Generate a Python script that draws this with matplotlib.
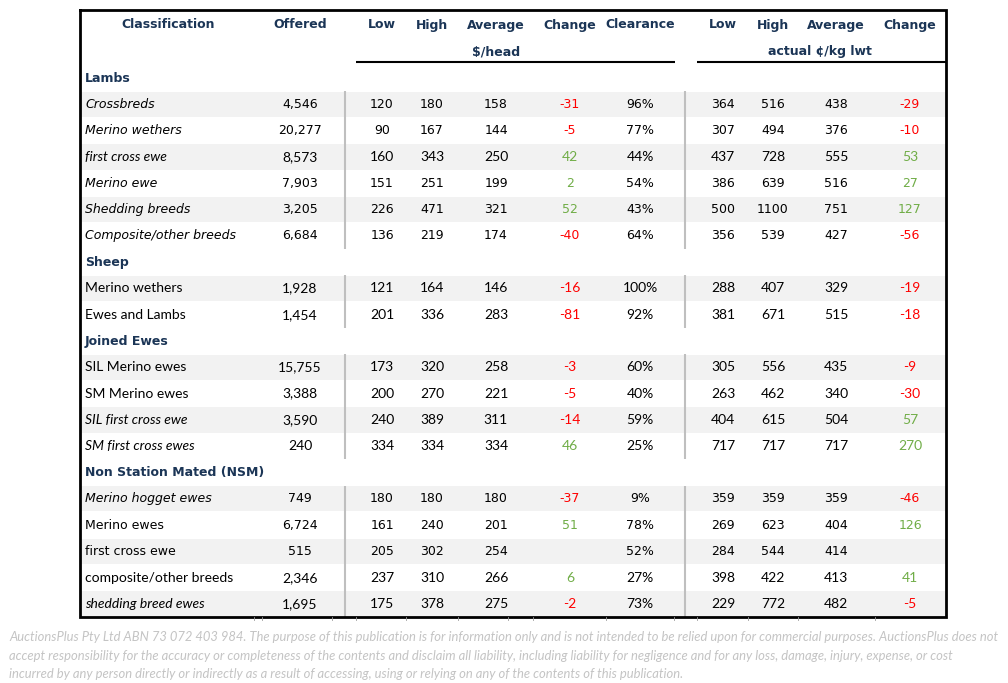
import matplotlib
matplotlib.use("Agg")
import matplotlib.pyplot as plt

# ---------------------------------------------------------------------------
# Data
# ---------------------------------------------------------------------------
groups = ["Lambs", "Sheep", "Joined Ewes", "Non Station Mated (NSM)"]
group_sizes = [6, 2, 4, 5]

classification = [
    "Crossbreds", "Merino wethers", "first cross ewe", "Merino ewe",
    "Shedding breeds", "Composite/other breeds",
    "Merino wethers", "Ewes and Lambs",
    "SIL Merino ewes", "SM Merino ewes", "SIL first cross ewe", "SM first cross ewes",
    "Merino hogget ewes", "Merino ewes", "first cross ewe",
    "composite/other breeds", "shedding breed ewes",
]
italic_rows = [True, True, True, True, True, True,
               False, False,
               False, False, True, True,
               True, False, False, False, True]
narrow_rows = [False, False, True, False, False, False,
               True, True,
               True, True, True, True,
               False, False, False, True, True]

offered = ["4,546", "20,277", "8,573", "7,903", "3,205", "6,684",
           "1,928", "1,454",
           "15,755", "3,388", "3,590", "240",
           "749", "6,724", "515", "2,346", "1,695"]
low_head = [120, 90, 160, 151, 226, 136, 121, 201, 173, 200, 240, 334, 180, 161, 205, 237, 175]
high_head = [180, 167, 343, 251, 471, 219, 164, 336, 320, 270, 389, 334, 180, 240, 302, 310, 378]
avg_head = [158, 144, 250, 199, 321, 174, 146, 283, 258, 221, 311, 334, 180, 201, 254, 266, 275]
chg_head = [-31, -5, 42, 2, 52, -40, -16, -81, -3, -5, -14, 46, -37, 51, None, 6, -2]
clearance = ["96%", "77%", "44%", "54%", "43%", "64%", "100%", "92%",
             "60%", "40%", "59%", "25%", "9%", "78%", "52%", "27%", "73%"]
low_kg = [364, 307, 437, 386, 500, 356, 288, 381, 305, 263, 404, 717, 359, 269, 284, 398, 229]
high_kg = [516, 494, 728, 639, 1100, 539, 407, 671, 556, 462, 615, 717, 359, 623, 544, 422, 772]
avg_kg = [438, 376, 555, 516, 751, 427, 329, 515, 435, 340, 504, 717, 359, 404, 414, 413, 482]
chg_kg = [-29, -10, 53, 27, 127, -56, -19, -18, -9, -30, 57, 270, -46, 126, None, 41, -5]

col_headers = ["Classification", "Offered", "Low", "High", "Average", "Change",
               "Clearance", "Low", "High", "Average", "Change"]

footer = [
    "AuctionsPlus Pty Ltd ABN 73 072 403 984. The purpose of this publication is for information only and is not intended to be relied upon for commercial purposes. AuctionsPlus does not",
    "accept responsibility for the accuracy or completeness of the contents and disclaim all liability, including liability for negligence and for any loss, damage, injury, expense, or cost",
    "incurred by any person directly or indirectly as a result of accessing, using or relying on any of the contents of this publication.",
]

# ---------------------------------------------------------------------------
# Layout (pixel coordinates)
# ---------------------------------------------------------------------------
W, H = 1008, 683
NAVY = "#1b3556"
RED = "#ff0000"
GREEN = "#70ad47"
SHADE = "#f2f2f2"
SEP = "#bfbfbf"

left, right, top, bottom = 80, 946, 10, 617
col_x = [168, 300, 382, 432, 496, 570, 640, 723, 773, 836, 910]
label_x = 85
row0_y, row_h = 78, 26.3
# little cell-edge marks under the bottom border (spreadsheet leftovers)
edge_ticks = [254, 262, 332, 356, 406, 458, 508, 533, 606, 674, 697, 748, 798, 875]

fig = plt.figure(figsize=(W / 100, H / 100), dpi=100, facecolor="white")
ax = fig.add_axes([0, 0, 1, 1])
ax.set_xlim(0, W)
ax.set_ylim(H, 0)
ax.axis("off")

# header
for x, t in zip(col_x, col_headers):
    ax.text(x, 25, t, ha="center", va="center", fontsize=9, weight="bold", color=NAVY)
ax.text(496, 52, "$/head", ha="center", va="center", fontsize=9, weight="bold", color=NAVY)
ax.text(820, 52, "actual ¢/kg lwt", ha="center", va="center", fontsize=9, weight="bold", color=NAVY)
ax.plot([356, 675], [62, 62], color="black", lw=1.5, solid_capstyle="butt")
ax.plot([697, right], [62, 62], color="black", lw=1.5, solid_capstyle="butt")


def fmt_chg(v):
    if v is None:
        return "", "black"
    return str(v), (RED if v < 0 else GREEN)


r = 0       # table line index
k = 0       # data row index
for g, n in zip(groups, group_sizes):
    y = row0_y + r * row_h
    ax.text(label_x, y, g, ha="left", va="center", fontsize=9, weight="bold", color=NAVY)
    r += 1
    y_start = row0_y + r * row_h - row_h / 2
    for j in range(n):
        y = row0_y + r * row_h
        if j % 2 == 0:
            ax.fill_between([left, right], y - row_h / 2 + 0.5, y + row_h / 2 - 0.5,
                            color=SHADE, lw=0, zorder=0)
        fam = ["Lato", "DejaVu Sans"] if narrow_rows[k] else ["DejaVu Sans"]
        fs = 10 if narrow_rows[k] else 9
        ax.text(label_x, y, classification[k], ha="left", va="center", fontsize=fs,
                family=fam, style="italic" if italic_rows[k] else "normal", color="black")
        c1, col1 = fmt_chg(chg_head[k])
        c2, col2 = fmt_chg(chg_kg[k])
        cells = [offered[k], low_head[k], high_head[k], avg_head[k], c1, clearance[k],
                 low_kg[k], high_kg[k], avg_kg[k], c2]
        colors = ["black", "black", "black", "black", col1, "black",
                  "black", "black", "black", col2]
        for x, v, c in zip(col_x[1:], cells, colors):
            ax.text(x, y, str(v), ha="center", va="center", fontsize=fs, family=fam, color=c)
        r += 1
        k += 1
    y_end = row0_y + (r - 1) * row_h + row_h / 2
    for sx in (345, 685):
        ax.plot([sx, sx], [y_start, y_end], color=SEP, lw=1.5, solid_capstyle="butt")

# border
ax.plot([left, right, right, left, left], [top, top, bottom, bottom, top],
        color="black", lw=2, solid_joinstyle="miter")
for tx in edge_ticks:
    ax.plot([tx, tx], [bottom, bottom + 3], color="#9a9a9a", lw=0.6)

# footer
for i, line in enumerate(footer):
    ax.text(9, 637 + i * 18.5, line, ha="left", va="center", fontsize=9.4,
            family=["Lato", "DejaVu Sans"], style="italic", color="#c4c4c4")

fig.savefig("out.png", dpi=100, facecolor="white")
plt.close(fig)
